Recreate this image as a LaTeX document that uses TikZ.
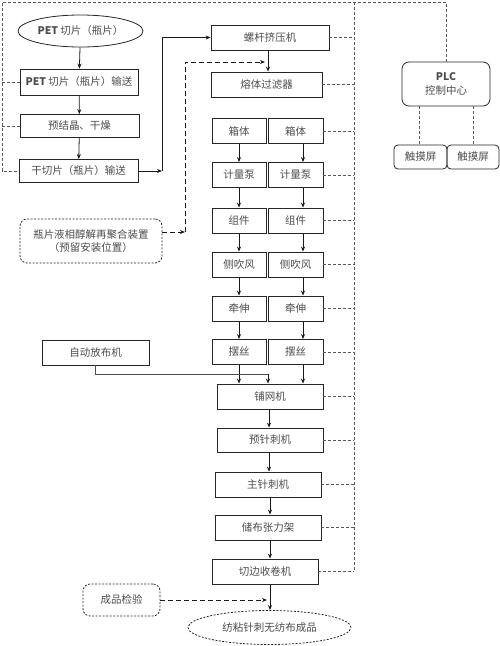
\documentclass[tikz,border=0pt]{standalone}
\usepackage{fontspec}
\setmainfont{Noto Sans CJK SC}
\usetikzlibrary{arrows.meta,shapes.geometric}
\begin{document}
\begin{tikzpicture}[x=1pt,y=-1pt,
  every node/.style={font=\fontsize{10.5}{12.5}\selectfont, text=black!70, inner sep=1pt},
  box/.style={draw=black!85, line width=0.8pt, rectangle},
  rbox/.style={draw=black!85, line width=0.8pt, rectangle, rounded corners=7pt},
  dbox/.style={draw=black!85, line width=0.8pt, dash pattern=on 2pt off 1.5pt, rectangle, rounded corners=7pt},
  ell/.style={draw=black!85, line width=0.8pt, ellipse},
  dell/.style={draw=black!85, line width=0.8pt, dash pattern=on 2pt off 1.5pt, ellipse},
  arr/.style={draw=black!90, line width=0.8pt, -{Stealth[length=5pt,width=4pt]}},
  thinl/.style={draw=black!70, line width=0.5pt},
  dbig/.style={draw=black!90, line width=0.9pt, dash pattern=on 5pt off 3pt},
  ctrl/.style={draw=black!65, line width=0.6pt, dash pattern=on 3pt off 2pt}]
\useasboundingbox (0,0) rectangle (500,646);

% left chain
\node[ell, minimum width=125pt, minimum height=32pt] (pet) at (80.5,31) {\textbf{PET} 切片（瓶片）};
\node[box, minimum width=118pt, minimum height=26pt] (petc) at (79,82) {\textbf{PET} 切片（瓶片）输送};
\node[box, minimum width=119pt, minimum height=23pt] (yjj) at (79.5,126) {预结晶、干燥};
\node[box, minimum width=119pt, minimum height=23pt] (gqp) at (78.5,171) {干切片（瓶片）输送};
\node[dbox, minimum width=142pt, minimum height=44pt, align=center] (py) at (91,241) {瓶片液相醇解再聚合装置\\（预留安装位置）};
\node[box, minimum width=107pt, minimum height=25pt] (zd) at (95.5,352.5) {自动放布机};

% main chain
\node[box, minimum width=118pt, minimum height=25pt] (lg) at (270,37.5) {螺杆挤压机};
\node[box, minimum width=111pt, minimum height=25pt] (rt) at (266.5,84.5) {熔体过滤器};

\foreach \n/\t/\yy in {xt/箱体/131, jl/计量泵/175, zj/组件/220.5, cc/侧吹风/264.5, qs/牵伸/308.5, bs/摆丝/352}{
  \node[box, minimum width=54pt, minimum height=25pt] (\n1) at (239,\yy) {\t};
  \node[box, minimum width=55pt, minimum height=25pt] (\n2) at (295.5,\yy) {\t};
}

\node[box, minimum width=106pt, minimum height=25pt] (pw) at (270,396.5) {铺网机};
\node[box, minimum width=106pt, minimum height=24pt] (yz) at (270,440) {预针刺机};
\node[box, minimum width=106pt, minimum height=25pt] (zz) at (268,484.5) {主针刺机};
\node[box, minimum width=106pt, minimum height=25pt] (cb) at (268,527.5) {储布张力架};
\node[box, minimum width=106pt, minimum height=25pt] (qb) at (265,571.5) {切边收卷机};
\node[dbox, minimum width=77pt, minimum height=32pt] (cp) at (121.5,600) {成品检验};
\node[dell, minimum width=163pt, minimum height=34pt] (fin) at (269.5,627.5) {纺粘针刺无纺布成品};

% PLC
\node[rbox, minimum width=88pt, minimum height=44pt, align=center] (plc) at (446,84) {\textbf{PLC}\\[1pt]控制中心};
\node[rbox, rounded corners=4pt, minimum width=53pt, minimum height=24pt] (ts1) at (420.5,157) {触摸屏};
\node[rbox, rounded corners=4pt, minimum width=52pt, minimum height=24pt] (ts2) at (473,157) {触摸屏};

% left chain arrows
\draw[arr] (pet) -- (petc);
\draw[arr] (petc) -- (yjj);
\draw[arr] (yjj) -- (gqp);
\coordinate (c1) at (162,171);
\draw[arr] (gqp.east) -- (c1);
\draw[arr] (c1) |- (lg.west);

% reserved device dashed arrows
\coordinate (dj) at (185,232);
\coordinate (dt) at (265,62);
\draw[dbig, -{Stealth[length=5pt,width=4pt]}] (dj -| py.east) -- (dj);
\draw[dbig, -{Stealth[length=5pt,width=4pt]}] (dj) |- (dt);

% main arrows
\draw[arr] (lg.south -| 268,0) -- (268,0 |- rt.north);
\foreach \a/\b in {xt/jl, jl/zj, zj/cc, cc/qs, qs/bs}{
  \draw[arr] (\a1) -- (\b1);
  \draw[arr] (\a2.south -| 303,0) -- (\b2.north -| 303,0);
}
\draw[arr] (bs1) -- (bs1 |- pw.north);
\draw[arr] (bs2.south -| 303,0) -- (pw.north -| 303,0);
\coordinate (m1) at (268,374);
\draw[thinl] (zd.south) |- (m1);
\draw[arr] (m1) -- (m1 |- pw.north);
\draw[arr] (pw.south -| 269,0) -- (yz.north -| 269,0);
\draw[arr] (yz.south -| 269,0) -- (zz.north -| 269,0);
\draw[arr] (zz.south -| 270,0) -- (cb.north -| 270,0);
\draw[arr] (cb.south -| 270,0) -- (qb.north -| 270,0);
\draw[arr] (qb.south -| 270,0) -- (fin.north -| 270,0);
\coordinate (ce) at (267,600);
\draw[dbig, -{Stealth[length=5pt,width=4pt]}] (cp.east) -- (ce);

% control lines
\coordinate (tl) at (2,2);
\coordinate (bus) at (354,2);
\draw[ctrl] (plc.north) |- (tl) |- (gqp.west);
\draw[ctrl] (tl |- petc.west) -- (petc.west);
\draw[ctrl] (tl |- yjj.west) -- (yjj.west);
\draw[ctrl] (bus) -- (bus |- qb.east);
\foreach \n in {lg, rt, xt2, jl2, zj2, cc2, qs2, bs2, pw, yz, zz, cb, qb}{
  \draw[ctrl] (\n.east) -- (bus |- \n.east);
}
\draw[ctrl] (419,0 |- plc.south) -- (419,0 |- ts1.north);
\draw[ctrl] (473,0 |- plc.south) -- (473,0 |- ts2.north);
\end{tikzpicture}
\end{document}
